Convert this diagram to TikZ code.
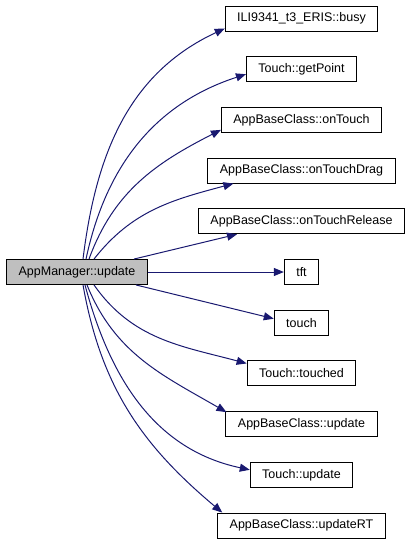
\documentclass[tikz,border=0pt]{standalone}
\usepackage{fontspec}
\setmainfont{Liberation Sans}
\usepackage{xcolor}
\usetikzlibrary{positioning,arrows.meta}
\definecolor{edgeblue}{HTML}{191970}
\definecolor{callergray}{HTML}{BFBFBF}

\begin{document}
\begin{tikzpicture}[
  x=1pt, y=1pt,
  node distance=24.8pt and 136pt,
  fn/.style={draw=black, rectangle, fill=white, minimum height=25pt, inner xsep=12pt, line width=0.9pt, font=\fontsize{12.5}{15}\selectfont},
  caller/.style={fn, fill=callergray},
  call/.style={draw=edgeblue, line width=1pt, -{Triangle[length=10pt,width=8pt]}}
]
\useasboundingbox (0,0) rectangle (413,-544);

% Callees
\node[fn] (busy) at (301.5,-18.5) {ILI9341\_t3\_ERIS::busy};
\node[fn, below=of busy] (getpoint) {Touch::getPoint};
\node[fn, below=of getpoint] (ontouch) {AppBaseClass::onTouch};
\node[fn, below=of ontouch] (ondrag) {AppBaseClass::onTouchDrag};
\node[fn, below=of ondrag] (onrelease) {AppBaseClass::onTouchRelease};
\node[fn, below=of onrelease] (tft) {tft};
\node[fn, below=of tft] (touch) {touch};
\node[fn, below=of touch] (touched) {Touch::touched};
\node[fn, below=of touched] (baseupd) {AppBaseClass::update};
\node[fn, below=of baseupd] (touchupd) {Touch::update};
\node[fn, below=of touchupd] (updrt) {AppBaseClass::updateRT};

% Caller
\node[caller, left=of tft] (appupd) {AppManager::update};

% Calls, upper half
\draw[call] ([xshift=6pt]appupd.north) to[out=83, in=205] ([yshift=3pt]busy.south west);
\draw[call] ([xshift=9pt]appupd.north) to[out=78, in=198] ([yshift=-5pt]getpoint.west);
\draw[call] ([xshift=12pt]appupd.north) to[out=70, in=207] ([yshift=3pt]ontouch.south west);
\draw[call] ([xshift=17pt]appupd.north) to[out=52, in=195] ([xshift=26pt]ondrag.south west);
\draw[call] ([xshift=57pt]appupd.north) -- ([xshift=39pt]onrelease.south west);
\draw[call] (appupd.east) -- (tft.west);

% Calls, lower half
\draw[call] ([xshift=59pt]appupd.south) -- ([yshift=4pt]touch.west);
\draw[call] ([xshift=17pt]appupd.south) to[out=-55, in=165] ([yshift=-3pt]touched.north west);
\draw[call] ([xshift=10pt]appupd.south) to[out=-68, in=150] ([xshift=1pt,yshift=-1pt]baseupd.north west);
\draw[call] ([xshift=8pt]appupd.south) to[out=-75, in=168] ([yshift=5pt]touchupd.west);
\draw[call] ([xshift=6pt]appupd.south) to[out=-80, in=140] ([xshift=5pt]updrt.north west);

\end{tikzpicture}
\end{document}
